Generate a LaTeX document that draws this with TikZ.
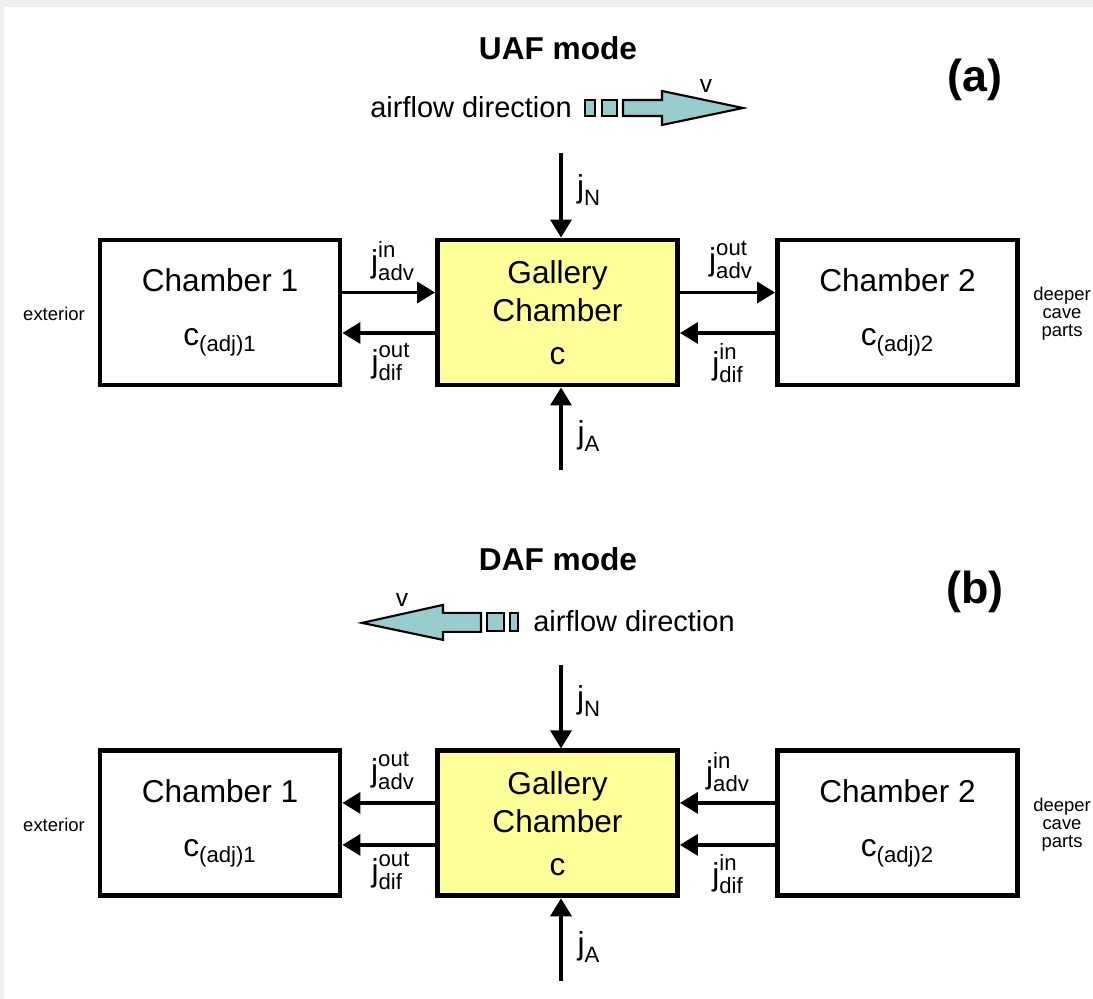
\documentclass[tikz,border=0pt]{standalone}
\usepackage{amsmath}
\usepackage{fontspec}
\setmainfont{Liberation Sans}
\usetikzlibrary{arrows.meta}
\definecolor{galY}{RGB}{255,255,153}
\definecolor{airT}{RGB}{153,204,204}
\definecolor{edgeG}{RGB}{238,238,238}

% flux symbol j with upper and lower index
\newcommand{\flux}[2]{$\text{j}^{\text{#1}}_{\text{#2}}$}

\tikzset{
  chamber/.style={draw,line width=2.8pt,minimum width=4.8cm,minimum height=2.9cm,
    align=center,font=\fontsize{18}{30.6}\selectfont},
  gallery/.style={chamber,fill=galY,font=\fontsize{18}{21.5}\selectfont},
  flow/.style={-{Triangle[length=3.6mm,width=4.2mm]},line width=2pt},
  lbl/.style={font=\fontsize{18}{20}\selectfont,inner sep=0pt},
  side/.style={font=\fontsize{10.5}{10.2}\selectfont,align=center},
  title/.style={font=\fontsize{18}{20}\selectfont\bfseries},
  panel/.style={font=\fontsize{25.5}{28}\selectfont\bfseries},
  wind/.style={draw,line width=1.2pt,fill=airT,line join=miter},
}

\begin{document}
\begin{tikzpicture}[x=0.02cm,y=-0.02cm]
\useasboundingbox (0,0) rectangle (1093,999);
\fill[edgeG] (0,0) rectangle (1093,7);
\fill[edgeG] (0,0) rectangle (4,999);

% ---- (a) UAF mode ----
\node[title] (titA) at (558,48) {UAF mode};
\node[panel] (panA) at (975,80) {(a)};
\node[font=\fontsize{16.5}{18}\selectfont] (airA) at (471,107) {airflow direction};
\draw[wind] (585,100) rectangle (595,116);
\draw[wind] (602,100) rectangle (617,116);
\draw[wind] (623,100) -- (662,100) -- (662,91) -- (743,108) -- (662,125) -- (662,116) -- (623,116) -- cycle;
\node[font=\fontsize{14}{16}\selectfont] (vA) at (706,86) {v};

\node[chamber] (chA1) at (220,312.5) {Chamber 1\\$\text{c}_{\text{(adj)1}}$};
\node[gallery] (galA) at (557.5,312.5) {Gallery\\Chamber\\[2.9pt]c};
\node[chamber] (chA2) at (897.5,312.5) {Chamber 2\\$\text{c}_{\text{(adj)2}}$};
\node[side] (extA) at (54,314) {exterior};
\node[side] (deepA) at (1062,314) {deeper\\cave\\parts};

\draw[flow] ([yshift=0.4cm]chA1.east) -- ([yshift=0.4cm]galA.west);
\draw[flow] ([yshift=-0.41cm]galA.west) -- ([yshift=-0.41cm]chA1.east);
\draw[flow] ([yshift=0.4cm]galA.east) -- ([yshift=0.4cm]chA2.west);
\draw[flow] ([yshift=-0.41cm]chA2.west) -- ([yshift=-0.41cm]galA.east);
\node[lbl] (jaiA) at (393,261) {\flux{in}{adv}};
\node[lbl] (jdoA) at (391,362) {\flux{out}{dif}};
\node[lbl] (jaoA) at (731,260) {\flux{out}{adv}};
\node[lbl] (jdiA) at (728,363) {\flux{in}{dif}};

\coordinate (srcNA) at (561,153);
\coordinate (srcAA) at (561,470);
\draw[flow] (srcNA) -- (srcNA |- galA.north);
\draw[flow] (srcAA) -- (srcAA |- galA.south);
\node[lbl] (jNA) at (589,190) {$\text{j}_{\text{N}}$};
\node[lbl] (jAA) at (589,436) {$\text{j}_{\text{A}}$};

% ---- (b) DAF mode ----
\begin{scope}[yshift=-10.22cm]
\node[title] (titB) at (558,48) {DAF mode};
\node[panel] (panB) at (975,81) {(b)};
\node[font=\fontsize{16.5}{18}\selectfont] (airB) at (634,110) {airflow direction};
\draw[wind] (510,102) rectangle (518,120);
\draw[wind] (487,102) rectangle (504,120);
\draw[wind] (481,102) -- (443,102) -- (443,94) -- (362,112) -- (443,129) -- (443,121) -- (481,121) -- cycle;
\node[font=\fontsize{14}{16}\selectfont] (vB) at (402,89) {v};

\node[chamber] (chB1) at (220,312.5) {Chamber 1\\$\text{c}_{\text{(adj)1}}$};
\node[gallery] (galB) at (557.5,312.5) {Gallery\\Chamber\\[2.9pt]c};
\node[chamber] (chB2) at (897.5,312.5) {Chamber 2\\$\text{c}_{\text{(adj)2}}$};
\node[side] (extB) at (54,314) {exterior};
\node[side] (deepB) at (1062,314) {deeper\\cave\\parts};

\draw[flow] ([yshift=0.41cm]galB.west) -- ([yshift=0.41cm]chB1.east);
\draw[flow] ([yshift=-0.43cm]galB.west) -- ([yshift=-0.43cm]chB1.east);
\draw[flow] ([yshift=0.41cm]chB2.west) -- ([yshift=0.41cm]galB.east);
\draw[flow] ([yshift=-0.43cm]chB2.west) -- ([yshift=-0.43cm]galB.east);
\node[lbl] (jaoB) at (393,260) {\flux{out}{adv}};
\node[lbl] (jdoB) at (391,360) {\flux{out}{dif}};
\node[lbl] (jaiB) at (728,261) {\flux{in}{adv}};
\node[lbl] (jdiB) at (728,363) {\flux{in}{dif}};

\coordinate (srcNB) at (561,154);
\coordinate (srcAB) at (561,470);
\draw[flow] (srcNB) -- (srcNB |- galB.north);
\draw[flow] (srcAB) -- (srcAB |- galB.south);
\node[lbl] (jNB) at (589,190) {$\text{j}_{\text{N}}$};
\node[lbl] (jAB) at (589,436) {$\text{j}_{\text{A}}$};
\end{scope}
\end{tikzpicture}
\end{document}
